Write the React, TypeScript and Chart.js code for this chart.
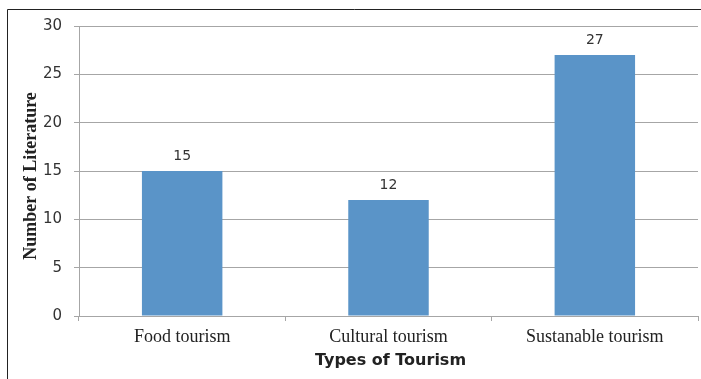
import React, { useEffect, useRef } from "react";
import { Chart, registerables } from "chart.js";

Chart.register(...registerables);

const categories = ["Food tourism", "Cultural tourism", "Sustanable tourism"];
const values = [15, 12, 27];
const yTicks = [0, 5, 10, 15, 20, 25, 30];
const xTitle = "Types of Tourism";
const yTitle = "Number of Literature";

const decor = {
  id: "decor",
  afterDraw(chart: any) {
    const ctx = chart.ctx;
    const area = chart.chartArea;
    ctx.save();
    // outer frame
    ctx.strokeStyle = "#222";
    ctx.lineWidth = 1;
    ctx.beginPath();
    ctx.moveTo(7.5, 400);
    ctx.lineTo(7.5, 9.5);
    ctx.lineTo(720, 9.5);
    ctx.stroke();
    // data labels
    const meta = chart.getDatasetMeta(0);
    ctx.fillStyle = "#333";
    ctx.font = "14px 'DejaVu Sans'";
    ctx.textAlign = "center";
    ctx.textBaseline = "alphabetic";
    meta.data.forEach((bar: any, i: number) => {
      ctx.fillText(String(values[i]), bar.x, bar.y - 11);
    });
    // x title
    ctx.fillStyle = "#222";
    ctx.font = "bold 16px 'DejaVu Sans'";
    ctx.textBaseline = "middle";
    ctx.fillText(xTitle, (area.left + area.right) / 2 + 2, 361);
    // y title
    ctx.translate(31, (area.top + area.bottom) / 2 + 5);
    ctx.rotate(-Math.PI / 2);
    ctx.font = "bold 18px 'Liberation Serif'";
    ctx.fillText(yTitle, 0, 0);
    ctx.restore();
  },
};

export default function App() {
  const ref = useRef<HTMLCanvasElement>(null);
  useEffect(() => {
    if (!ref.current) return;
    const chart = new Chart(ref.current, {
      type: "bar",
      data: {
        labels: categories,
        datasets: [
          {
            data: values,
            backgroundColor: "#5A94C8",
            borderWidth: 0,
            categoryPercentage: 1,
            barPercentage: 0.39,
          },
        ],
      },
      options: {
        responsive: false,
        animation: false,
        devicePixelRatio: 1,
        layout: { padding: { top: 26, right: 3, left: 0, bottom: 0 } },
        plugins: { legend: { display: false }, tooltip: { enabled: false } },
        scales: {
          x: {
            grid: {
              offset: true,
              drawOnChartArea: false,
              drawTicks: true,
              tickLength: 5,
              color: "#A6A6A6",
            },
            border: { color: "#A6A6A6" },
            ticks: {
              font: { family: "'Liberation Serif'", size: 18 },
              color: "#222",
              padding: 5,
              maxRotation: 0,
            },
            afterFit(scale: any) {
              scale.height = 63;
            },
          },
          y: {
            min: 0,
            max: 30,
            afterBuildTicks(scale: any) {
              scale.ticks = yTicks.map((v) => ({ value: v }));
            },
            grid: { color: "#A6A6A6", tickLength: 5 },
            border: { color: "#A6A6A6" },
            ticks: {
              font: { family: "'DejaVu Sans'", size: 15 },
              color: "#333",
              padding: 12,
            },
            afterFit(scale: any) {
              scale.width = 79;
            },
          },
        },
      },
      plugins: [decor],
    });
    return () => chart.destroy();
  }, []);
  return (
    <div style={{ position: "fixed", left: 0, top: 0, width: 701, height: 379, background: "#fff" }}>
      <canvas ref={ref} width={701} height={379} style={{ display: "block" }} />
    </div>
  );
}
